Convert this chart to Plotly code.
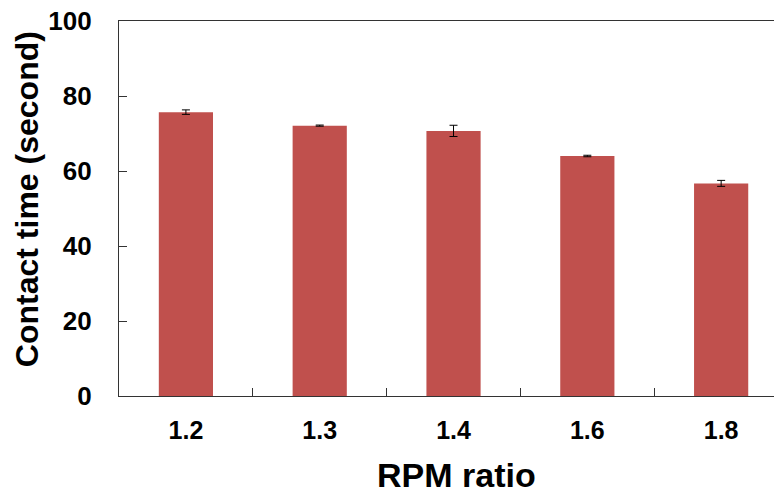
import plotly.graph_objects as go

categories = ["1.2", "1.3", "1.4", "1.6", "1.8"]
contact_time = [75.7, 72.1, 70.7, 64.0, 56.7]
errors = [0.6, 0.15, 1.5, 0.2, 0.8]

fig = go.Figure()
fig.add_trace(go.Bar(
    x=categories, y=contact_time,
    marker=dict(color="#C0504D", line=dict(width=0)),
    error_y=dict(type="data", array=errors, visible=True, color="black", thickness=1, width=4),
))

font = "Liberation Sans, Arial, sans-serif"
axis_col = "#333333"
fig.update_layout(
    width=774, height=493,
    margin=dict(l=119, r=0, t=21, b=97),
    paper_bgcolor="white", plot_bgcolor="white",
    bargap=0.595,
    showlegend=False,
    font=dict(family=font, color="black"),
    xaxis=dict(
        type="category", range=[-0.5, 4.395],
        tickson="boundaries", ticks="inside", ticklen=8, tickcolor=axis_col,
        showline=True, linecolor=axis_col, linewidth=1.3, mirror=True,
        showgrid=False,
        tickfont=dict(size=25, family=font, weight="bold"),
        ticklabelstandoff=12,
    ),
    yaxis=dict(
        range=[0, 100], tickvals=[0, 20, 40, 60, 80, 100],
        ticks="inside", ticklen=8, tickcolor=axis_col,
        showline=True, linecolor=axis_col, linewidth=1.3,
        showgrid=False, zeroline=False,
        tickfont=dict(size=26, family=font, weight="bold"),
        ticklabelstandoff=21,
    ),
    annotations=[
        dict(
            text="<b>Contact time (second)</b>", textangle=-90,
            xref="paper", yref="paper", x=0, y=0.525,
            xanchor="center", yanchor="middle", xshift=-92, showarrow=False,
            font=dict(size=32, family=font, color="black"),
        ),
        dict(
            text="<b>RPM ratio</b>",
            xref="paper", yref="paper", x=0.515, y=0,
            xanchor="center", yanchor="middle", yshift=-79, showarrow=False,
            font=dict(size=34, family=font, color="black"),
        ),
    ],
)
fig.write_html("out.html")
